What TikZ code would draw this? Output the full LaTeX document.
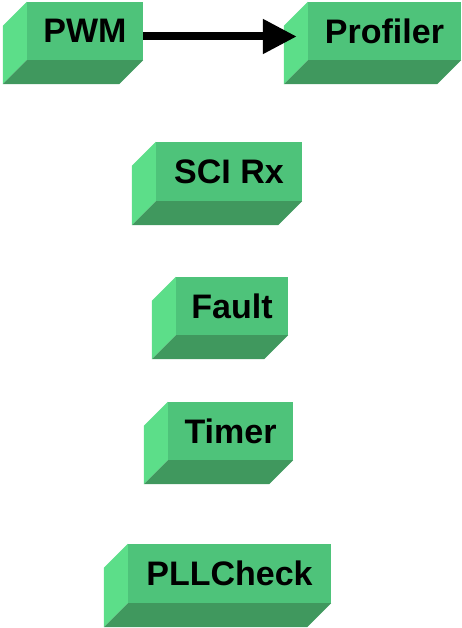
\documentclass[tikz,border=0pt]{standalone}
\usepackage{fontspec}
\setmainfont{Liberation Sans}
\usetikzlibrary{arrows.meta}
\definecolor{facegreen}{RGB}{78,195,122}
\definecolor{sidegreen}{RGB}{92,222,137}
\definecolor{basegreen}{RGB}{64,152,94}

\begin{document}
\begin{tikzpicture}[x=1pt, y=-1pt, every node/.style = {shape=rectangle, fill=facegreen, inner sep=0pt, minimum height=58pt, font=\fontsize{34}{40}\selectfont\bfseries}, side/.style = {fill=sidegreen}, base/.style = {fill=basegreen}, flow/.style = {line width=8pt, -{Triangle[length=34pt, width=33pt]}}]
    \useasboundingbox (0,0) rectangle (462,628);
    \node[minimum width=116pt] (pwm) at (85,31) {PWM};
    \node[minimum width=153pt] (prof) at (384.5,31) {Profiler};
    \node[minimum width=146pt, minimum height=59pt] (sci) at (229,171.5) {SCI Rx};
    \node[minimum width=112pt] (fault) at (232,306) {Fault};
    \node[minimum width=125pt] (timer) at (230.5,431) {Timer};
    \node[minimum width=203pt, minimum height=59pt] (pll) at (229.5,573.5) {PLLCheck};
    \foreach \n in {pwm,prof,sci,fault,timer,pll}{
        \fill[side] (\n.south west) -- (\n.north west) -- ++(-24,24) -- ([shift={(-24,24)}]\n.south west) -- cycle;
        \fill[base] (\n.south west) -- (\n.south east) -- ++(-24,24) -- ([shift={(-24,24)}]\n.south west) -- cycle;
    }
    \draw[flow] ([yshift=-5.5pt]pwm.east) -- ([xshift=-11pt, yshift=-5.5pt]prof.west);
\end{tikzpicture}
\end{document}
